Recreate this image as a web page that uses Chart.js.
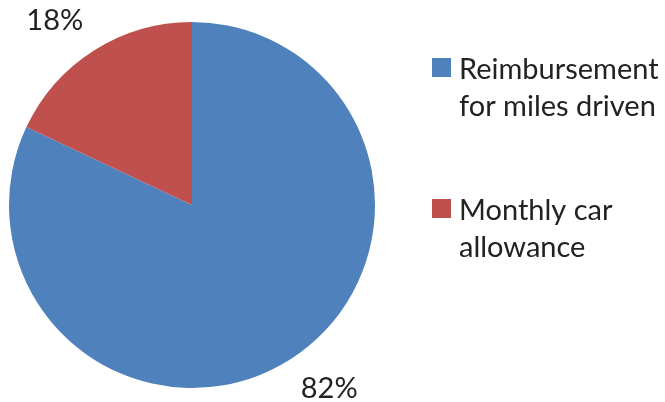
<!DOCTYPE html>
<html>
<head>
<meta charset="utf-8">
<script src="https://cdn.jsdelivr.net/npm/chart.js@4.4.1/dist/chart.umd.min.js"></script>
<style>
  html, body { margin: 0; padding: 0; background: #fff; }
  #wrap { width: 665px; height: 402px; }
</style>
</head>
<body>
<div id="wrap"><canvas id="grafica" width="665" height="402"></canvas></div>
<script>
// Forma de pago del vehículo (porcentajes)
const categorias = [
  ["Reimbursement", "for miles driven"],
  ["Monthly car", "allowance"]
];
const porcentajes = [82, 18];
const colores = ["#4F81BD", "#C0504D"];

const FUENTE = "Lato, 'Open Sans', sans-serif";
const COLOR_TEXTO = "#222";

// Etiquetas de porcentaje fuera de cada sector
const etiquetasPorcentaje = {
  id: "etiquetasPorcentaje",
  afterDatasetsDraw(chart) {
    const { ctx } = chart;
    const meta = chart.getDatasetMeta(0);
    ctx.save();
    ctx.font = `29px ${FUENTE}`;
    ctx.fillStyle = COLOR_TEXTO;
    ctx.textAlign = "center";
    ctx.textBaseline = "middle";
    meta.data.forEach((arco, i) => {
      const { x, y, startAngle, endAngle, outerRadius } = arco.getProps(
        ["x", "y", "startAngle", "endAngle", "outerRadius"], true);
      const medio = (startAngle + endAngle) / 2;
      const r = outerRadius + 20;
      const ax = x + Math.cos(medio) * r;
      const ay = y + Math.sin(medio) * r;
      const texto = `${porcentajes[i]}%`;
      const w = ctx.measureText(texto).width;
      const h = 25;
      const cx = ax + Math.sign(Math.cos(medio)) * w / 2;
      const cy = ay + Math.sign(Math.sin(medio)) * h / 2;
      ctx.fillText(texto, cx, cy);
    });
    ctx.restore();
  }
};

// Leyenda a la derecha con etiquetas de dos líneas
const leyenda = {
  id: "leyenda",
  afterDraw(chart) {
    const { ctx } = chart;
    const x0 = 432;
    const filas = [58, 199];
    const lado = 19;
    const interlinea = 37;
    ctx.save();
    ctx.font = `29px ${FUENTE}`;
    ctx.textBaseline = "alphabetic";
    ctx.textAlign = "left";
    chart.data.labels.forEach((lineas, i) => {
      const top = filas[i];
      ctx.fillStyle = chart.data.datasets[0].backgroundColor[i];
      ctx.fillRect(x0, top, lado, lado);
      ctx.fillStyle = COLOR_TEXTO;
      lineas.forEach((linea, j) => {
        ctx.fillText(linea, x0 + 27, top + 21 + j * interlinea);
      });
    });
    ctx.restore();
  }
};

const ctx = document.getElementById("grafica").getContext("2d");
new Chart(ctx, {
  type: "pie",
  data: {
    labels: categorias,
    datasets: [{
      data: porcentajes,
      backgroundColor: colores,
      borderWidth: 0,
    }],
  },
  options: {
    responsive: false,
    animation: false,
    layout: {
      padding: { left: 9, top: 22, right: 290, bottom: 14 }
    },
    plugins: {
      legend: { display: false },
      tooltip: { enabled: false },
    },
  },
  plugins: [etiquetasPorcentaje, leyenda],
});
</script>
</body>
</html>
